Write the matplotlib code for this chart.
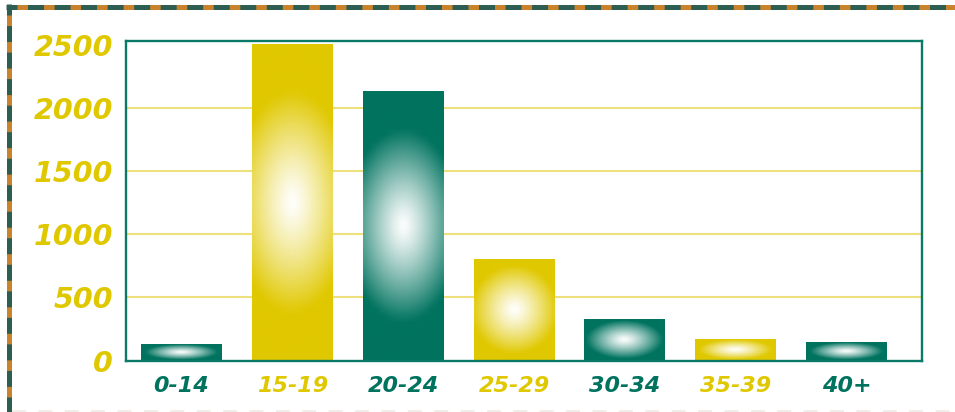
import numpy as np
import matplotlib.pyplot as plt
from matplotlib.colors import to_rgb
from matplotlib.lines import Line2D

plt.rcParams['lines.scale_dashes'] = False

# age groups and counts
age_groups = ["0-14", "15-19", "20-24", "25-29", "30-34", "35-39", "40+"]
counts = [125, 2495, 2125, 795, 320, 162, 140]
y_ticks = [0, 500, 1000, 1500, 2000, 2500]

GREEN = "#00735F"
YELLOW = "#E0C800"
GRID = "#EEE07C"
BORDER_GREEN = "#2E5E52"
BORDER_ORANGE = "#C8832C"

bar_colors = [GREEN if i % 2 == 0 else YELLOW for i in range(len(age_groups))]


def radial_fill(base, aspect, ncols=24, nrows=40):
    """RGB array fading from white at the centre to base colour at the rim.
    aspect is bar height / bar width in pixels; tall bars get a wider glow."""
    k = min(1.0, aspect / 3.5)
    rx = 0.9 + 0.6 * k
    ry = 1.0 - 0.28 * k
    xs = np.linspace(-1, 1, ncols)
    ys = np.linspace(-1, 1, nrows)
    gx, gy = np.meshgrid(xs, ys)
    r = np.sqrt((gx / rx) ** 2 + (gy / ry) ** 2)
    t = np.clip(r, 0, 1) ** 1.2
    c = np.array(to_rgb(base))
    return (1 - t)[..., None] * np.ones(3) + t[..., None] * c


fig = plt.figure(figsize=(9.55, 4.12), dpi=100)
ax = fig.add_axes([126 / 955, 51.5 / 412, 796 / 955, 319.5 / 412])

x = np.arange(len(age_groups))
width = 0.73
ax.set_xlim(-0.5, 6.68)
ax.set_ylim(0, 2528)

for yv in y_ticks[1:-1]:
    ax.axhline(yv, color=GRID, lw=1.5, zorder=1)

# pixel scale, used only to shape the glow of each bar
px_per_x = 796 / (6.68 + 0.5)
px_per_y = 319.5 / 2528
for xi, val, col in zip(x, counts, bar_colors):
    aspect = (val * px_per_y) / (width * px_per_x)
    ax.imshow(radial_fill(col, aspect),
              extent=(xi - width / 2, xi + width / 2, 0, val),
              aspect='auto', interpolation='bilinear', zorder=2)

ax.set_xticks(x)
ax.set_xticklabels(age_groups)
ax.set_yticks(y_ticks)
ax.set_yticklabels([str(v) for v in y_ticks])
ax.tick_params(axis='both', length=0)
ax.tick_params(axis='y', pad=9.5)
ax.tick_params(axis='x', pad=11)

for lbl in ax.get_yticklabels():
    lbl.set_fontsize(20.5)
    lbl.set_fontweight('bold')
    lbl.set_fontstyle('italic')
    lbl.set_color(YELLOW)

for lbl, col in zip(ax.get_xticklabels(), bar_colors):
    lbl.set_fontsize(16)
    lbl.set_fontweight('bold')
    lbl.set_fontstyle('italic')
    lbl.set_color(col)

for sp in ax.spines.values():
    sp.set_color("#0A7A66")
    sp.set_linewidth(1.7)

# dashed two-tone frame along the top and left edges, faint one at the bottom
W, H = 955, 412
lw = 3.6
top_y = 1 - 6.5 / H
left_x = 8.5 / W
dash = (0, (7.6, 11.5))
fig.add_artist(Line2D([6 / W, 1], [top_y, top_y], transform=fig.transFigure,
                      color=BORDER_GREEN, lw=lw, solid_capstyle='butt'))
fig.add_artist(Line2D([17 / W, 1], [top_y, top_y], transform=fig.transFigure,
                      color=BORDER_ORANGE, lw=lw, dash_capstyle='butt',
                      linestyle=dash))
fig.add_artist(Line2D([left_x, left_x], [1 - 4 / H, 0], transform=fig.transFigure,
                      color=BORDER_GREEN, lw=lw, solid_capstyle='butt'))
fig.add_artist(Line2D([left_x, left_x], [1 - 15 / H, 0], transform=fig.transFigure,
                      color=BORDER_ORANGE, lw=lw, dash_capstyle='butt',
                      linestyle=dash))
fig.add_artist(Line2D([12 / W, 1], [1.0 / H, 1.0 / H], transform=fig.transFigure,
                      color="#F1EDE8", lw=1.4, dash_capstyle='butt',
                      linestyle=(0, (10, 9))))

fig.savefig("out.png", dpi=100)
